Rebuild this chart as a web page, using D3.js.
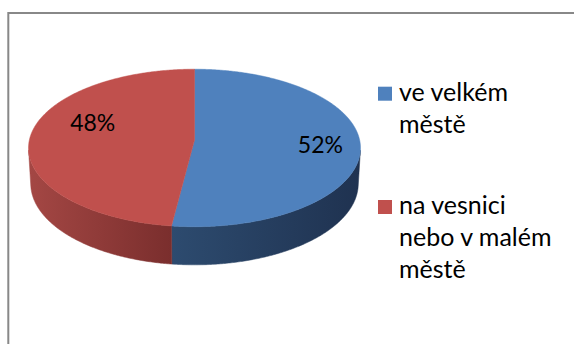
<!DOCTYPE html>
<html>
<head>
<meta charset="utf-8">
<script src="https://cdn.jsdelivr.net/npm/d3@7"></script>
<style>
  html, body { margin: 0; padding: 0; background: #fff; }
  svg { display: block; }
  text { font-family: Lato, "Open Sans", sans-serif; fill: #000; }
</style>
</head>
<body>
<svg id="chart" width="574" height="344"></svg>
<script>
// Data
const categories = ["ve velkém městě", "na vesnici nebo v malém městě"];
const values = [52, 48];
const valueLabels = ["52%", "48%"];
const legendLines = [["ve velkém", "městě"], ["na vesnici", "nebo v malém", "městě"]];
const topColors = ["#4f81bd", "#c0504d"];
const wallColors = [["#2d4b6f", "#1f3250"], ["#a44744", "#7a2e2d"]]; // [left, right]

const W = 574, H = 344;
const svg = d3.select("#chart");

// Chart frame
svg.append("rect")
  .attr("x", 8.3).attr("y", 13).attr("width", 580).attr("height", 360)
  .attr("fill", "none").attr("stroke", "#888").attr("stroke-width", 2);

// 3D perspective projection of a flat cylinder (unit radius, thickness depth)
const tilt = Math.asin(0.472);
const camDist = 8.72, focal = 1440, depth = 0.247;
const cx = 194.5, cy = 140;
function proj(r, a, y) {
  const X = r * Math.sin(a), Z = -r * Math.cos(a);
  const xc = X;
  const yc = Z * Math.sin(tilt) - y * Math.cos(tilt);
  const dz = camDist - Z * Math.cos(tilt) - y * Math.sin(tilt);
  return [cx + focal * xc / dz, cy + focal * yc / dz];
}

const pie = d3.pie().sort(null).value(d => d)(values);
const line = d3.line();
const step = Math.PI / 360;
function arcPoints(a0, a1, y) {
  const n = Math.max(2, Math.ceil((a1 - a0) / step));
  return d3.range(n + 1).map(i => proj(1, a0 + (a1 - a0) * i / n, y));
}

// Outer wall is visible where the surface faces the camera
const visLimit = Math.acos(-1 / (camDist * Math.cos(tilt)));
const visLo = visLimit, visHi = 2 * Math.PI - visLimit;

const defs = svg.append("defs");
const g = svg.append("g");

pie.forEach((p, i) => {
  const a0 = Math.max(p.startAngle, visLo), a1 = Math.min(p.endAngle, visHi);
  if (a1 <= a0) return;
  const top = arcPoints(a0, a1, 0);
  const bottom = arcPoints(a0, a1, -depth).reverse();
  const xs = top.concat(bottom).map(d => d[0]);
  const gid = "wall" + i;
  const grad = defs.append("linearGradient").attr("id", gid)
    .attr("gradientUnits", "userSpaceOnUse")
    .attr("x1", d3.min(xs)).attr("x2", d3.max(xs)).attr("y1", 0).attr("y2", 0);
  grad.append("stop").attr("offset", 0).attr("stop-color", wallColors[i][0]);
  grad.append("stop").attr("offset", 1).attr("stop-color", wallColors[i][1]);
  g.append("path")
    .attr("d", line(top.concat(bottom)) + "Z")
    .attr("fill", `url(#${gid})`)
    .attr("stroke", `url(#${gid})`).attr("stroke-width", 0.5);
});

// Top faces
pie.forEach((p, i) => {
  const pts = [proj(0, 0, 0)].concat(arcPoints(p.startAngle, p.endAngle, 0));
  g.append("path")
    .attr("d", line(pts) + "Z")
    .attr("fill", topColors[i])
    .attr("stroke", topColors[i]).attr("stroke-width", 0.5);
});

// Value labels
const labelRadius = [0.76, 0.62];
const labelShift = [9, -6];
pie.forEach((p, i) => {
  const mid = (p.startAngle + p.endAngle) / 2;
  const [x, y] = proj(labelRadius[i], mid, 0);
  g.append("text")
    .attr("x", x).attr("y", y + labelShift[i])
    .attr("text-anchor", "middle")
    .attr("font-size", 23)
    .text(valueLabels[i]);
});

// Legend
const legendX = 378, legendTop = [100.7, 214], lineH = 32, sq = 14;
categories.forEach((c, i) => {
  const lg = svg.append("g");
  lg.append("rect")
    .attr("x", legendX).attr("y", legendTop[i] - sq)
    .attr("width", sq).attr("height", sq)
    .attr("fill", topColors[i]);
  const t = lg.append("text")
    .attr("x", legendX + 21).attr("y", legendTop[i])
    .attr("font-size", 25);
  legendLines[i].forEach((l, j) => {
    t.append("tspan").attr("x", legendX + 21).attr("dy", j === 0 ? 0 : lineH).text(l);
  });
});
</script>
</body>
</html>
